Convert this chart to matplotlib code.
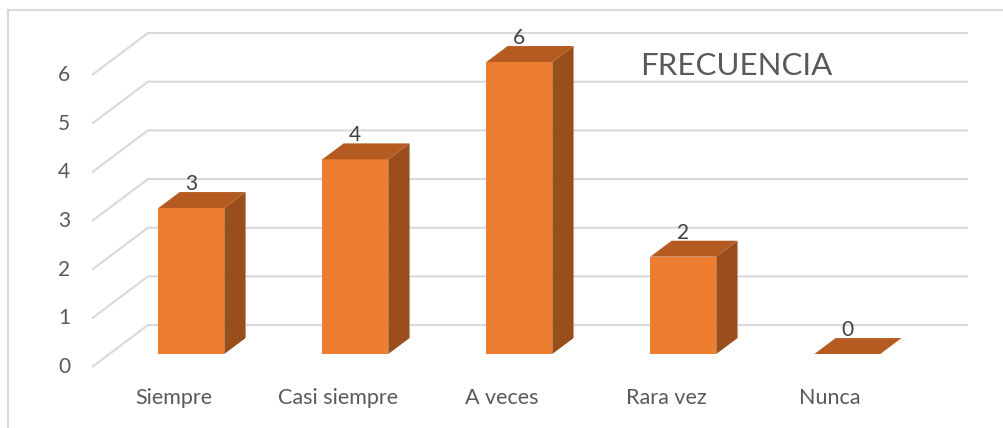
import matplotlib
matplotlib.use('Agg')
import matplotlib.pyplot as plt
from matplotlib.patches import Polygon

plt.rcParams['font.family'] = ['Lato', 'DejaVu Sans']

categories = ['Siempre', 'Casi siempre', 'A veces', 'Rara vez', 'Nunca']
values = [3, 4, 6, 2, 0]
y_ticks = [0, 1, 2, 3, 4, 5, 6]
title = 'FRECUENCIA'

# 3d look: depth offset in data units (category, value)
DX, DY = 0.341, 0.862
BAR_W = 0.402
D0, D1 = 0.31, 0.69

FRONT = '#ED7D31'
TOP = '#B55B22'
SIDE = '#9A4E1C'
GRID = '#D9D9D9'
TXT = '#595959'

fig = plt.figure(figsize=(10.04, 4.28), dpi=100)
ax = fig.add_axes([0, 0, 1, 1])
ax.set_xlim(-1.061, 5.061)
ax.set_ylim(-1.253, 7.541)
ax.axis('off')

left, right = -0.5, len(categories) - 0.5
for v in y_ticks:
    ax.plot([left, left + DX, right + DX], [v, v + DY, v + DY],
            color=GRID, lw=1.5, zorder=1, solid_capstyle='butt')
    ax.text(left - 0.17, v, str(v), ha='center', va='center',
            fontsize=15, color=TXT)


def shift(x, y, d):
    return (x + DX * d, y + DY * d)


for i, v in enumerate(values):
    xl, xr = i - BAR_W / 2, i + BAR_W / 2
    fl = shift(xl, 0, D0)
    fr = shift(xr, 0, D0)
    tl = shift(xl, v, D0)
    tr = shift(xr, v, D0)
    btl = shift(xl, v, D1)
    btr = shift(xr, v, D1)
    bbr = shift(xr, 0, D1)
    if v > 0:
        ax.add_patch(Polygon([fl, fr, tr, tl], closed=True, fc=FRONT, ec='none', zorder=3))
        ax.add_patch(Polygon([fr, bbr, btr, tr], closed=True, fc=SIDE, ec='none', zorder=3))
    ax.add_patch(Polygon([tl, tr, btr, btl], closed=True, fc=TOP, ec='none', zorder=3))
    cx = i + DX * D0
    ax.annotate(str(v), (cx, v + DY * D1), xytext=(0, 1.5), textcoords='offset points',
                ha='center', va='baseline', fontsize=15, color='#404040', zorder=4)
    ax.text(i, -0.64, categories[i], ha='center', va='center', fontsize=15.5, color=TXT)

ax.text(3.43, 6.18, title, ha='center', va='center', fontsize=22.5, color=TXT)

# chart frame (top and left edges visible)
fig.add_artist(plt.Line2D([8 / 1004, 1], [1 - 10 / 428, 1 - 10 / 428],
                          color='#D9D9D9', lw=1.5))
fig.add_artist(plt.Line2D([8 / 1004, 8 / 1004], [0, 1 - 10 / 428],
                          color='#D9D9D9', lw=1.5))

fig.savefig('out.png', dpi=100)
